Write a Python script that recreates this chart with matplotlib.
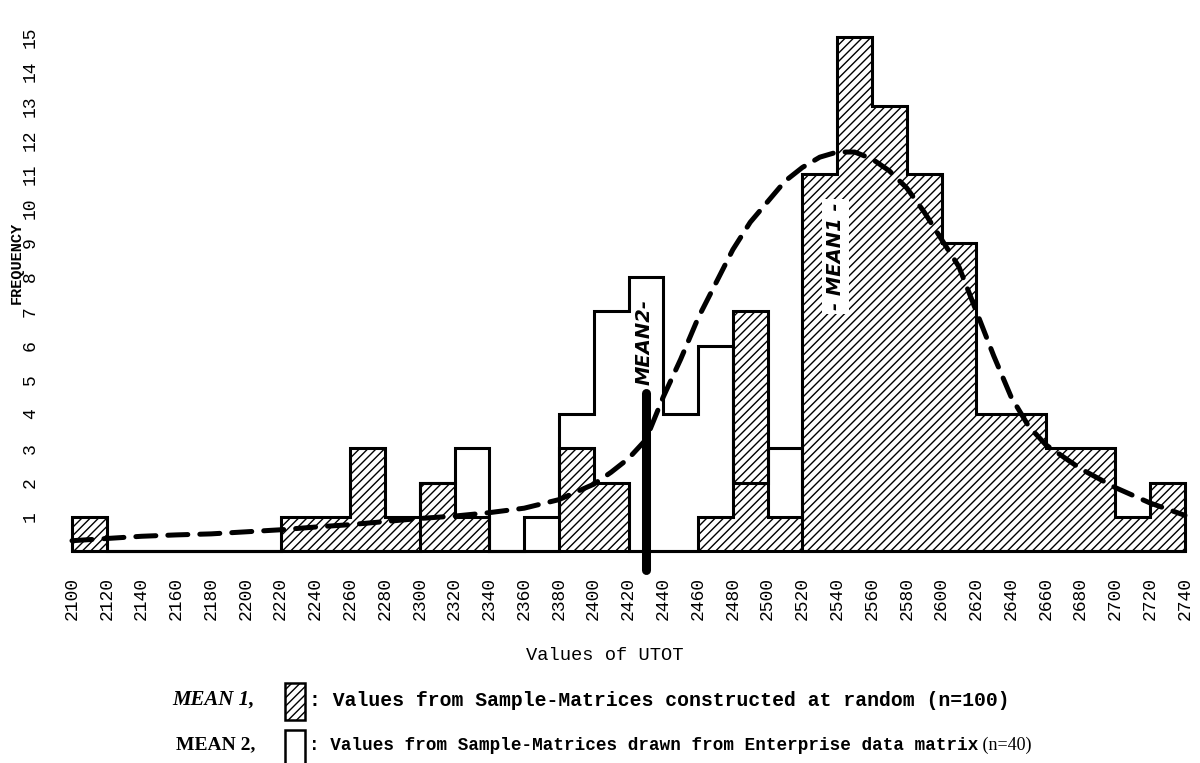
"""Frequency of UTOT values: random sample-matrices vs Enterprise data matrix"""
import matplotlib
matplotlib.use("Agg")
import matplotlib.pyplot as plt
from matplotlib.patches import Rectangle

plt.rcParams['hatch.linewidth'] = 1.0

# bin edges 2100..2740 in steps of 20
bin_edges = list(range(2100, 2741, 20))

# MEAN 1: sample-matrices constructed at random (n=100), hatched
random_counts = [1, 0, 0, 0, 0, 0, 1, 1, 3, 1, 2, 1, 0, 0, 3, 2,
                 0, 0, 1, 7, 1, 11, 15, 13, 11, 9, 4, 4, 3, 3, 1, 2]
# MEAN 2: sample-matrices drawn from Enterprise data matrix (n=40), open
enterprise_counts = [0, 0, 0, 0, 0, 0, 0, 0, 0, 0, 2, 3, 0, 1, 4, 7,
                     8, 4, 6, 2, 3, 0, 0, 0, 0, 0, 0, 0, 0, 0, 0, 0]

# dashed fitted curve
curve_x = [2100, 2140, 2160, 2180, 2200, 2220, 2240, 2260, 2280, 2300, 2320,
           2340, 2360, 2380, 2400, 2410, 2420, 2430, 2440, 2450, 2460, 2470,
           2480, 2490, 2500, 2510, 2520, 2530, 2540, 2550, 2560, 2570, 2580,
           2590, 2600, 2610, 2620, 2630, 2640, 2650, 2660, 2680, 2700, 2720, 2740]
curve_y = [0.3, 0.43, 0.47, 0.5, 0.56, 0.62, 0.7, 0.77, 0.86, 0.95, 1.02,
           1.12, 1.25, 1.5, 1.95, 2.3, 2.7, 3.25, 4.5, 5.6, 6.8, 7.8,
           8.8, 9.6, 10.2, 10.8, 11.2, 11.5, 11.65, 11.65, 11.45, 11.1, 10.6,
           9.9, 9.1, 8.3, 7.0, 5.7, 4.5, 3.65, 3.1, 2.4, 1.85, 1.4, 1.04]

mean1_x, mean1_label_y = 2539, 8.6
mean2_x, mean2_top, mean2_bottom = 2430, 4.6, -0.55
mean2_label_y = 6.1

x_ticks = list(range(2100, 2741, 20))
y_ticks = list(range(1, 16))

W, H = 1200, 763
fig = plt.figure(figsize=(W / 100, H / 100), dpi=100)
ax = fig.add_axes([72 / W, 1 - 551 / H, (1185 - 72) / W, 0.6957])

ax.stairs(random_counts, bin_edges, fill=True, facecolor='white',
          edgecolor='black', hatch='////', lw=2.2, clip_on=False, zorder=2)
ax.stairs(enterprise_counts, bin_edges, fill=False, color='black',
          lw=2.2, clip_on=False, zorder=3)

ax.plot(curve_x, curve_y, color='black', lw=3.6, ls=(0, (4, 2.4)),
        dash_capstyle='round', clip_on=False, zorder=4)

ax.plot([mean2_x, mean2_x], [mean2_bottom, mean2_top], color='black', lw=6.5,
        solid_capstyle='round', clip_on=False, zorder=5)
ax.text(mean2_x - 1, mean2_label_y, 'MEAN2-', rotation=90, ha='center', va='center',
        fontsize=14, style='italic', weight='bold', family='DejaVu Sans', zorder=6)
ax.text(mean1_x, mean1_label_y, '- MEAN1 -', rotation=90, ha='center', va='center',
        fontsize=14, style='italic', weight='bold', family='DejaVu Sans', zorder=6,
        bbox=dict(facecolor='white', edgecolor='none', pad=3))

ax.set_xlim(2100, 2740)
ax.set_ylim(0, 15.5)
for s in ['left', 'right', 'top']:
    ax.spines[s].set_visible(False)
ax.spines['bottom'].set_linewidth(2.2)

ax.set_xticks(x_ticks)
ax.set_xticklabels([str(v) for v in x_ticks], rotation=90, family='Liberation Mono',
                   fontsize=13, va='top')
ax.set_yticks(y_ticks)
ax.set_yticklabels([str(v) for v in y_ticks], rotation=90, family='Liberation Mono',
                   fontsize=13, va='center')
ax.tick_params(axis='x', length=0, pad=19)
ax.tick_params(axis='y', length=0, pad=24)

fig.text(17 / W, 1 - 263 / H, 'FREQUENCY', rotation=90, ha='center', va='center',
         family='Liberation Mono', weight='bold', fontsize=11)
fig.text(605 / W, 1 - 655 / H, 'Values of UTOT', ha='center', va='center',
         family='Liberation Mono', fontsize=13.5)

# legend
fig.text(255 / W, 1 - 700 / H, 'MEAN 1,', ha='right', va='center',
         family='Liberation Serif', style='italic', weight='bold', fontsize=15)
fig.add_artist(Rectangle((285 / W, 1 - 720 / H), 20 / W, 37 / H, transform=fig.transFigure,
                         facecolor='white', edgecolor='black', hatch='////', lw=1.8))
fig.text(309 / W, 1 - 700 / H, ': Values from Sample-Matrices constructed at random (n=100)',
         ha='left', va='center', family='Liberation Mono', weight='bold', fontsize=14.2)

fig.text(255 / W, 1 - 745 / H, 'MEAN 2,', ha='right', va='center',
         family='Liberation Serif', weight='bold', fontsize=14)
fig.add_artist(Rectangle((285 / W, -0.02), 20 / W, 1 - 730 / H + 0.02, transform=fig.transFigure,
                         facecolor='white', edgecolor='black', lw=1.8))
t2 = fig.text(309 / W, 1 - 745 / H, ': Values from Sample-Matrices drawn from Enterprise data matrix',
              ha='left', va='center', family='Liberation Mono', weight='bold', fontsize=12.7)
ax.annotate(' (n=40)', xy=(1, 0.5), xycoords=t2, ha='left', va='center',
            family='Liberation Serif', fontsize=13, annotation_clip=False)

fig.savefig('out.png', dpi=100)
